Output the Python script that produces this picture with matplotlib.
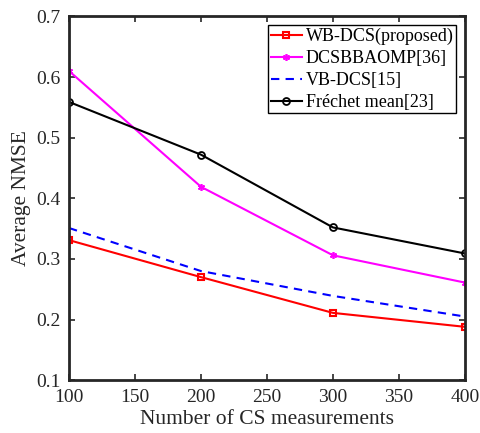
import matplotlib.pyplot as plt

plt.rcParams['font.family'] = ['Liberation Serif', 'DejaVu Serif']
plt.rcParams['mathtext.fontset'] = 'stix'

# CS measurement counts and average NMSE per method
measurements = [100, 200, 300, 400]
wb_dcs = [0.331, 0.270, 0.211, 0.188]
dcsbbaomp = [0.610, 0.419, 0.306, 0.261]
vb_dcs = [0.351, 0.280, 0.239, 0.205]
frechet = [0.559, 0.472, 0.352, 0.309]

fig = plt.figure(figsize=(4.81, 4.33), dpi=100)
ax = fig.add_axes([0.1435, 0.122, 0.823, 0.840])

ax.plot(measurements, wb_dcs, color='red', lw=1.5, marker='s', ms=4,
        mfc='none', mew=1.5, label='WB-DCS(proposed)')
ax.plot(measurements, dcsbbaomp, color='magenta', lw=1.5, marker=(6, 2, 0), ms=5,
        mew=1.2, label='DCSBBAOMP[36]')
ax.plot(measurements, vb_dcs, color='blue', lw=1.5, ls='--', dashes=(4, 3),
        label='VB-DCS[15]')
ax.plot(measurements, frechet, color='black', lw=1.5, marker='o', ms=5,
        mfc='none', mew=1.3, label='Fréchet mean[23]')

ax.set_xlim(100, 400)
ax.set_ylim(0.1, 0.7)
ax.set_xticks(range(100, 401, 50))
ax.set_yticks([0.1, 0.2, 0.3, 0.4, 0.5, 0.6, 0.7])
ax.set_yticklabels(['0.1', '0.2', '0.3', '0.4', '0.5', '0.6', '0.7'])
ax.tick_params(direction='in', labelsize=14, length=4, width=1.2,
               top=True, right=True, colors='#262626', pad=6)
for sp in ax.spines.values():
    sp.set_linewidth(2)
    sp.set_color('#262626')

ax.set_xlabel('Number of CS measurements', fontsize=15.5, color='#262626', labelpad=3)
ax.set_ylabel('Average NMSE', fontsize=15.5, color='#262626', labelpad=4)

leg = ax.legend(loc='upper right', fontsize=13, fancybox=False, edgecolor='black',
                framealpha=1, handlelength=1.75, handletextpad=0.2,
                borderpad=0.12, labelspacing=0.28, borderaxespad=0.5)
leg.get_frame().set_linewidth(1)

fig.savefig('out.png', dpi=100)
